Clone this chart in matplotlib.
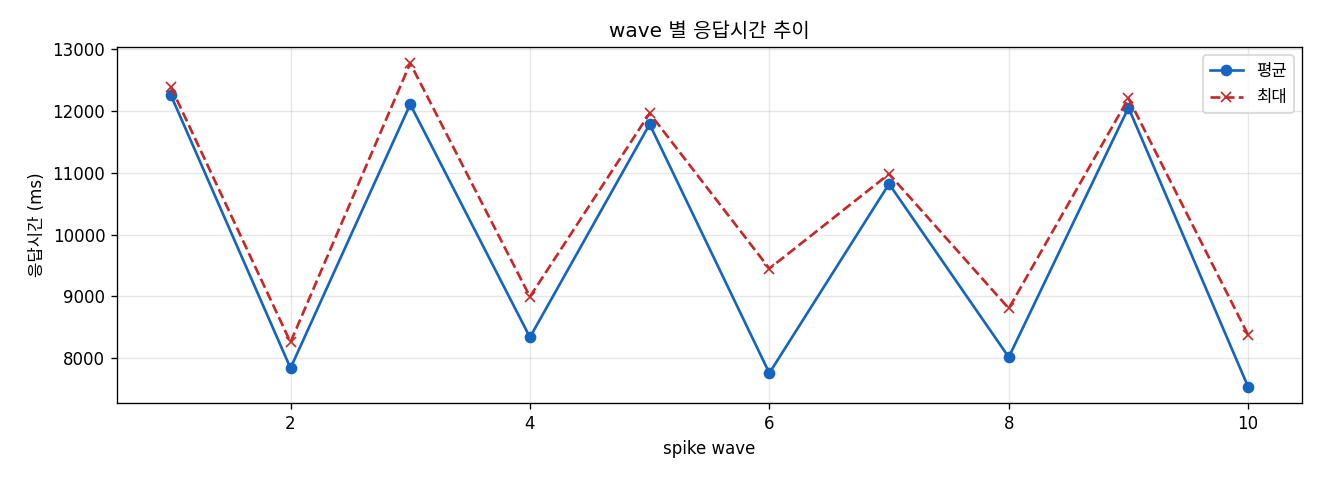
import matplotlib
matplotlib.use("Agg")
import matplotlib.pyplot as plt

plt.rcParams['font.family'] = ['DejaVu Sans', 'Noto Sans CJK KR']

waves = [1, 2, 3, 4, 5, 6, 7, 8, 9, 10]
avg_ms = [12258, 7839, 12108, 8338, 11786, 7758, 10820, 8016, 12054, 7533]
max_ms = [12391, 8258, 12773, 8995, 11963, 9450, 10981, 8805, 12205, 8375]

fig, ax = plt.subplots(figsize=(11, 4), dpi=120)
ax.plot(waves, avg_ms, "-o", color="#1565c0", lw=1.6, ms=6, label="평균")
ax.plot(waves, max_ms, "--x", color="#c62828", lw=1.6, ms=6, label="최대")
ax.set_title("wave 별 응답시간 추이")
ax.set_xlabel("spike wave")
ax.set_ylabel("응답시간 (ms)")
ax.grid(alpha=0.3)
ax.legend(loc="upper right")
fig.subplots_adjust(left=0.0886, right=0.9864, top=0.902, bottom=0.160)
fig.savefig("out.png", dpi=120)
